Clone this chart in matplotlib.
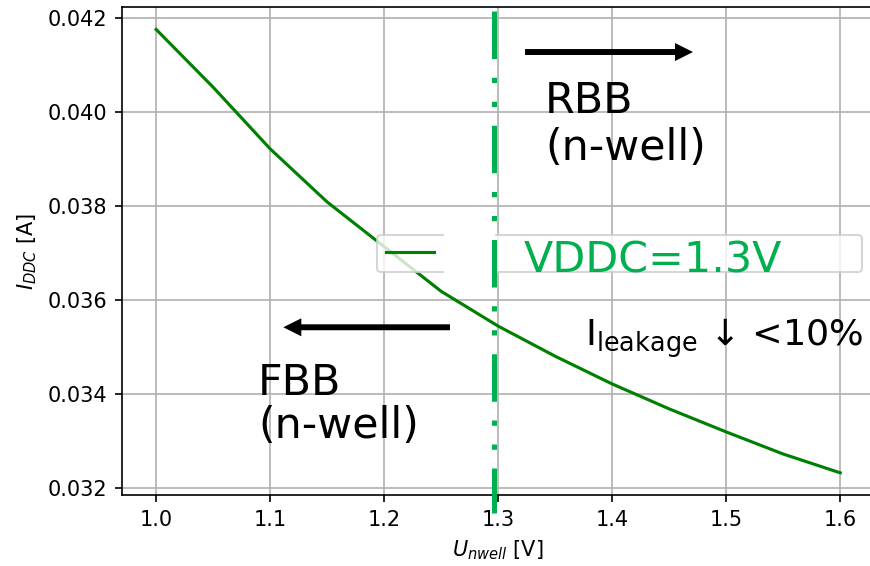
import matplotlib.pyplot as plt
from matplotlib.transforms import blended_transform_factory
from matplotlib.patches import Rectangle

# measured supply current versus n-well bias
u_nwell = [1.00, 1.05, 1.10, 1.15, 1.20, 1.25, 1.30, 1.35, 1.40, 1.45, 1.50, 1.55, 1.60]
i_ddc = [0.04175, 0.04052, 0.03921, 0.03808, 0.03713, 0.03618, 0.03544,
         0.03480, 0.03421, 0.03368, 0.03319, 0.03272, 0.03232]

u_nominal = 1.296
legend_label = "VDDC=1.3V"

W, H = 870, 566
dpi = 150
fig = plt.figure(figsize=(W / dpi, H / dpi), dpi=dpi)
ax = fig.add_axes([122 / W, 71 / H, 752.4 / W, 487.7 / H])

line, = ax.plot(u_nwell, i_ddc, color="green", lw=1.5)
ax.grid(True)
ax.set_xlabel(r"$U_{nwell}$ [V]")
ax.set_ylabel(r"$I_{DDC}$ [A]")
# the original picture is cropped just before the right spine
ax.spines["right"].set_visible(False)

# legend box (label text is put on top separately, like the slide)
leg = ax.legend([line], [" "], loc="lower left", mode="expand",
                bbox_to_anchor=(0.3393, 0.4579, 0.6442, 0.08),
                borderaxespad=0, handlelength=2.3)

ax.add_patch(Rectangle((0.4279, 0.4508), 0.068, 0.0906, transform=ax.transAxes,
                       facecolor="white", edgecolor="none", zorder=6))

# nominal bias marker, long dash dot dot
tr = blended_transform_factory(ax.transData, ax.transAxes)
ax.plot([u_nominal, u_nominal], [0.993, -0.037], transform=tr, clip_on=False,
        color="#00B050", lw=2.4, solid_capstyle="butt", dash_capstyle="butt",
        linestyle=(0, (9.5, 3.75, 1.05, 3.75, 1.05, 3.75)), zorder=7)

green = "#00B050"
big = 20.5
ax.text(0.5334, 0.4558, legend_label, transform=ax.transAxes, color=green,
        fontsize=big, va="baseline", ha="left", zorder=8)

ax.text(0.5622, 0.7833, "RBB", transform=ax.transAxes, fontsize=big, va="baseline")
ax.text(0.5622, 0.6869, "(n-well)", transform=ax.transAxes, fontsize=big, va="baseline")
ax.text(0.1808, 0.2050, "FBB", transform=ax.transAxes, fontsize=big, va="baseline")
ax.text(0.1808, 0.1169, "(n-well)", transform=ax.transAxes, fontsize=big, va="baseline")
ax.text(0.6154, 0.3035, r"I$_{\mathrm{leakage}}$ ↓ <10%", transform=ax.transAxes,
        fontsize=17.5, va="baseline")

arrow = dict(arrowstyle="simple,head_length=1,head_width=1,tail_width=0.33",
             mutation_scale=8.64, fc="black", ec="none", shrinkA=0, shrinkB=0)
ax.annotate("", xy=(0.7589, 0.9083), xytext=(0.5356, 0.9083),
            xycoords="axes fraction", arrowprops=arrow)
ax.annotate("", xy=(0.2144, 0.3439), xytext=(0.4359, 0.3439),
            xycoords="axes fraction", arrowprops=arrow)

fig.savefig("out.png", dpi=dpi)
